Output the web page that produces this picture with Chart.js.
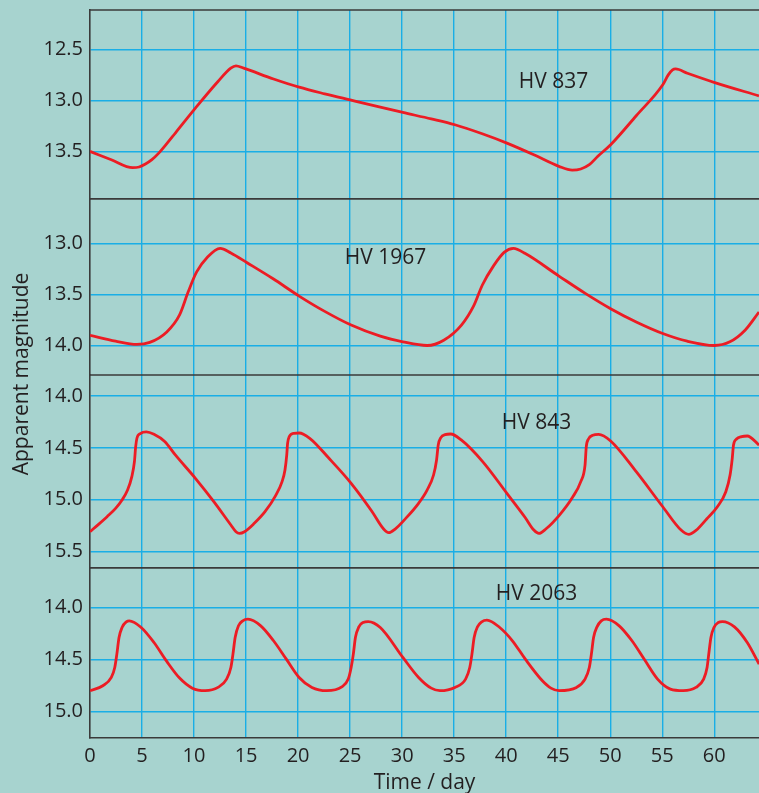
<!DOCTYPE html>
<html><head><meta charset="utf-8">
<script src="https://cdn.jsdelivr.net/npm/chart.js@4.4.1/dist/chart.umd.min.js"></script>
<style>html,body{margin:0;padding:0;background:#a7d3cf;overflow:hidden}canvas{display:block}</style>
</head><body>
<canvas id="c" width="759" height="793"></canvas>
<script>
// ---- data (time in days, apparent magnitude) ----
const days837 = [0,2.05,4.1,4.72,5.33,5.95,6.56,7.38,8.2,10.13,12.3,13.53,14.03,14.77,17.64,20.1,22.56,25.1,27.9,30.07,32.8,35.07,37.7,40.07,42.66,45.07,46.35,47.17,47.99,48.81,50.04,52.5,55.05,55.58,55.99,56.28,57.42,60.05,64.3];
const mag837  = [13.497,13.578,13.656,13.649,13.62,13.578,13.519,13.422,13.318,13.075,12.815,12.685,12.662,12.685,12.79,12.87,12.935,12.997,13.065,13.117,13.18,13.237,13.325,13.416,13.53,13.643,13.68,13.669,13.627,13.545,13.432,13.149,12.847,12.75,12.701,12.692,12.734,12.825,12.955];

const days1967 = [0,2.46,4.51,5.74,7.38,8.61,9.43,10.25,11.28,12.51,13.54,15.1,17.6,20.1,22.56,25.1,27.9,30.07,32.4,34.0,35.7,36.9,37.7,38.8,39.8,40.7,41.84,45.07,47.6,50.04,52.5,55.05,57.4,60.0,61.5,62.96,64.3];
const mag1967  = [13.90,13.958,13.99,13.97,13.867,13.70,13.477,13.28,13.136,13.049,13.094,13.19,13.347,13.516,13.666,13.80,13.909,13.964,14.0,13.948,13.80,13.607,13.41,13.218,13.088,13.049,13.10,13.32,13.49,13.64,13.77,13.883,13.958,14.0,13.964,13.85,13.672];

const days843 = [0,0.82,1.64,2.46,3.08,3.61,4.02,4.27,4.39,4.51,4.84,5.41,6.15,7.18,8.2,10.13,11.9,13.54,14.03,14.36,14.85,15.79,16.82,17.84,18.46,18.74,18.91,18.99,19.15,19.6,20.1,21.12,22.97,25.1,27.07,28.22,28.71,29.33,30.35,31.58,32.4,33.02,33.31,33.47,33.72,34.13,34.66,35.68,37.74,40.07,41.84,42.66,43.15,43.81,45.12,46.35,47.17,47.58,47.7,47.91,48.32,48.89,50.04,52.5,55.05,56.81,57.55,58.24,59.27,60.3,61.11,61.52,61.73,61.85,62.14,62.63,63.17,64.3];
const mag843  = [15.309,15.238,15.164,15.084,15.003,14.907,14.778,14.633,14.489,14.408,14.363,14.347,14.37,14.44,14.569,14.794,15.019,15.244,15.309,15.325,15.309,15.228,15.116,14.961,14.826,14.714,14.569,14.457,14.392,14.36,14.357,14.408,14.601,14.842,15.109,15.283,15.318,15.283,15.18,15.035,14.907,14.762,14.617,14.473,14.402,14.373,14.367,14.424,14.633,14.939,15.174,15.293,15.325,15.283,15.148,14.981,14.826,14.666,14.489,14.415,14.379,14.37,14.434,14.73,15.068,15.293,15.334,15.296,15.186,15.068,14.923,14.762,14.601,14.473,14.415,14.392,14.386,14.473];

const days2063 = [0,1.23,2.05,2.38,2.58,2.79,3.08,3.49,3.77,4.92,6.15,7.38,8.61,9.84,11.07,12.3,13.13,13.54,13.74,13.95,14.27,14.68,15.18,16.41,17.64,18.87,20.1,21.33,22.76,24.2,24.82,25.1,25.31,25.51,25.84,26.25,26.74,27.9,30.07,31.58,32.8,33.63,35.07,36.1,36.5,36.71,36.92,37.24,37.65,38.15,39.38,40.6,41.84,43.48,44.3,45.08,46.76,47.58,47.99,48.19,48.4,48.73,49.14,49.63,50.86,52.09,53.32,54.55,55.78,57.01,58.24,58.98,59.31,59.47,59.68,59.97,60.38,60.79,61.94,63.17,64.31];
const mag2063  = [14.80,14.753,14.673,14.577,14.449,14.288,14.192,14.138,14.128,14.192,14.337,14.519,14.679,14.776,14.80,14.769,14.689,14.577,14.449,14.288,14.176,14.128,14.112,14.176,14.32,14.497,14.673,14.769,14.80,14.763,14.689,14.577,14.449,14.288,14.186,14.144,14.135,14.192,14.48,14.673,14.776,14.80,14.769,14.689,14.577,14.449,14.288,14.186,14.138,14.122,14.192,14.32,14.497,14.705,14.776,14.80,14.769,14.689,14.577,14.449,14.288,14.186,14.128,14.112,14.176,14.32,14.506,14.689,14.785,14.80,14.769,14.689,14.577,14.449,14.288,14.192,14.144,14.135,14.186,14.337,14.545];

const xTicks = [0,5,10,15,20,25,30,35,40,45,50,55,60];
const yTicks837  = [12.5,13.0,13.5];
const yTicks1967 = [13.0,13.5,14.0];
const yTicks843  = [14.0,14.5,15.0,15.5];
const yTicks2063 = [14.0,14.5,15.0];

const starNames = ['HV 837','HV 1967','HV 843','HV 2063'];
const labelDays = [44.55,28.4,42.92,42.92];
const labelMags = [12.877,13.202,14.318,13.923];

// ---- chart ----
const FONT = "'Open Sans', 'Noto Sans', sans-serif";
const TXT = '#231f20', GRID = '#1aaee6', EDGE = '#3a3a3a', RED = '#ec1c24', BG = '#a7d3cf';
Chart.defaults.font.family = FONT;
Chart.defaults.color = TXT;

const allDays = [days837, days1967, days843, days2063];
const allMags = [mag837, mag1967, mag843, mag2063];
const yIds = ['y1','y2','y3','y4'];
const yTickSets = [yTicks837, yTicks1967, yTicks843, yTicks2063];
const yRanges = [[12.117,13.96],[12.564,14.289],[13.798,15.657],[13.618,15.256]];
const yWeights = [189,176.3,193,170.3];

const datasets = allDays.map((d,i)=>({
  label: starNames[i],
  data: d.map((x,j)=>({x:x, y:allMags[i][j]})),
  yAxisID: yIds[i],
  borderColor: RED, borderWidth: 2.8, pointRadius: 0,
  cubicInterpolationMode: 'monotone', fill: false
}));

const noPad = s => { s.paddingTop = 0; s.paddingBottom = 0; s.paddingLeft = 0; s.paddingRight = 0; };

const scales = {
  x: {
    type: 'linear', position: 'bottom', min: 0, max: 64.3,
    afterBuildTicks: s => { s.ticks = xTicks.map(v=>({value:v})); },
    afterFit: s => { s.height = 55; noPad(s); },
    grid: { color: c => (c.tick && c.tick.value === 0) ? 'rgba(0,0,0,0)' : GRID, lineWidth: 1.4, drawTicks: false },
    border: { display: true, color: EDGE, width: 1.6 },
    ticks: { font: { size: 20 }, color: TXT, padding: 6, maxRotation: 0, callback: v => String(v) },
    title: { display: true, text: 'Time / day', font: { size: 21 }, color: TXT, padding: { top: 0, bottom: -3 } }
  }
};
// stacked axes are placed bottom-up, so register the lowest panel first
[3,2,1,0].forEach(i=>{
  const id = yIds[i];
  scales[id] = {
    type: 'linear', position: 'left', stack: 'mag', stackWeight: yWeights[i],
    reverse: true, min: yRanges[i][0], max: yRanges[i][1],
    afterBuildTicks: s => { s.ticks = yTickSets[i].map(v=>({value:v})); },
    afterFit: s => { s.width = 90; noPad(s); },
    grid: { color: GRID, lineWidth: 1.4, drawTicks: false },
    border: { display: true, color: EDGE, width: 1.6 },
    ticks: { font: { size: 20 }, color: TXT, padding: 7, callback: v => Number(v).toFixed(1) }
  };
});

const decor = {
  id: 'decor',
  beforeDraw(chart) {
    const ctx = chart.ctx;
    ctx.save(); ctx.fillStyle = BG; ctx.fillRect(0,0,chart.width,chart.height); ctx.restore();
  },
  afterDraw(chart) {
    const ctx = chart.ctx, a = chart.chartArea;
    ctx.save();
    ctx.strokeStyle = EDGE; ctx.lineWidth = 1.6;
    yIds.forEach(id => {
      const s = chart.scales[id];
      ctx.beginPath(); ctx.moveTo(a.left, s.top); ctx.lineTo(a.right, s.top); ctx.stroke();
    });
    ctx.fillStyle = TXT; ctx.font = '21px ' + FONT;
    ctx.textAlign = 'center'; ctx.textBaseline = 'alphabetic';
    starNames.forEach((n,i)=>{
      const x = chart.scales.x.getPixelForValue(labelDays[i]);
      const y = chart.scales[yIds[i]].getPixelForValue(labelMags[i]);
      ctx.fillText(n, x, y);
    });
    ctx.translate(22, (a.top + a.bottom)/2);
    ctx.rotate(-Math.PI/2);
    ctx.textBaseline = 'middle';
    ctx.fillText('Apparent magnitude', 0, 0);
    ctx.restore();
  }
};

new Chart(document.getElementById('c'), {
  type: 'line',
  data: { datasets },
  options: {
    responsive: false, animation: false, events: [],
    layout: { padding: { top: 10, right: 0, left: 0, bottom: 0 } },
    plugins: { legend: { display: false }, tooltip: { enabled: false } },
    scales
  },
  plugins: [decor]
});
</script>
</body></html>
